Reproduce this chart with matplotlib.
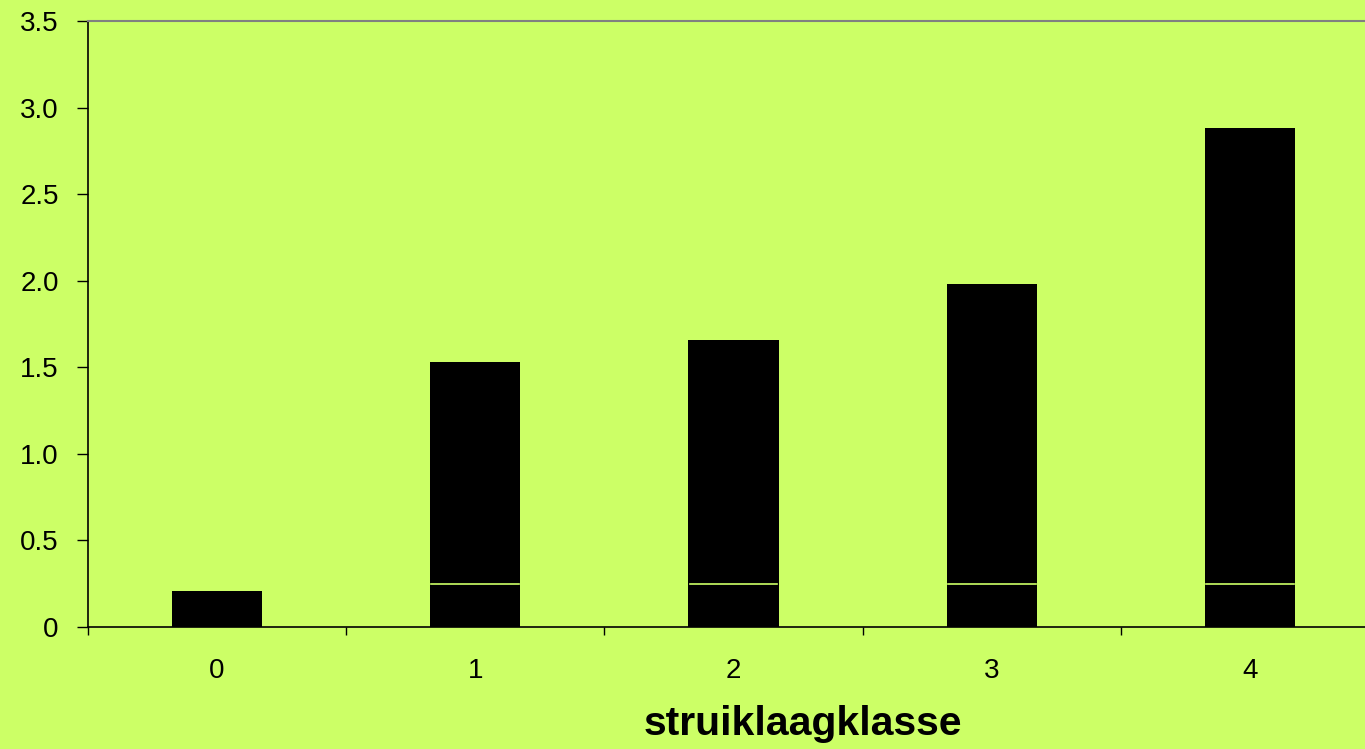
import matplotlib
matplotlib.use("Agg")
import matplotlib.pyplot as plt
import numpy as np

categories = ["0", "1", "2", "3", "4"]
base_values = [0.21, 0.25, 0.25, 0.25, 0.25]
upper_values = [0.0, 1.28, 1.41, 1.73, 2.63]
y_ticks = [0, 0.5, 1.0, 1.5, 2.0, 2.5, 3.0, 3.5]
y_ticklabels = ["0", "0.5", "1.0", "1.5", "2.0", "2.5", "3.0", "3.5"]
x_label = "struiklaagklasse"

BG = "#CCFF66"
plt.rcParams['font.family'] = ['Liberation Sans', 'DejaVu Sans']

fig = plt.figure(figsize=(13.65, 7.49), dpi=100, facecolor=BG)
ax = fig.add_axes([88/1365, 1-627/749, (1379-88)/1365, (627-21)/749])
ax.set_facecolor(BG)

x = np.arange(len(categories))
w = 0.35
ax.bar(x, base_values, width=w, color="black", zorder=2)
ax.bar(x, upper_values, width=w, bottom=base_values, color="black", zorder=2)
for xi, b, u in zip(x, base_values, upper_values):
    if u > 0:
        ax.plot([xi - w/2 + 0.005, xi + w/2 - 0.005], [b, b], color=BG, lw=1.2, zorder=3)

ax.set_xlim(-0.5, 4.5)
ax.set_ylim(0, 3.5)

ax.set_yticks(y_ticks)
ax.set_yticklabels(y_ticklabels, fontsize=20)
ax.tick_params(axis='y', length=8, width=1, pad=13, direction='out', colors='black')

ax.set_xticks(np.arange(-0.5, 5, 1))
ax.set_xticklabels([])
ax.tick_params(axis='x', which='major', length=6, width=1, direction='out')
ax.set_xticks(x, minor=True)
ax.set_xticklabels(categories, minor=True, fontsize=20)
ax.tick_params(axis='x', which='minor', length=0, pad=22)

for s in ['left', 'bottom']:
    ax.spines[s].set_color('black')
    ax.spines[s].set_linewidth(1.2)
ax.spines['top'].set_color('#808080')
ax.spines['top'].set_linewidth(1.5)
ax.spines['right'].set_visible(False)

fig.text(803/1365, 1-724/749, x_label, fontsize=29.5, fontweight='bold',
         ha='center', va='center')

fig.savefig("out.png", dpi=100, facecolor=BG)
